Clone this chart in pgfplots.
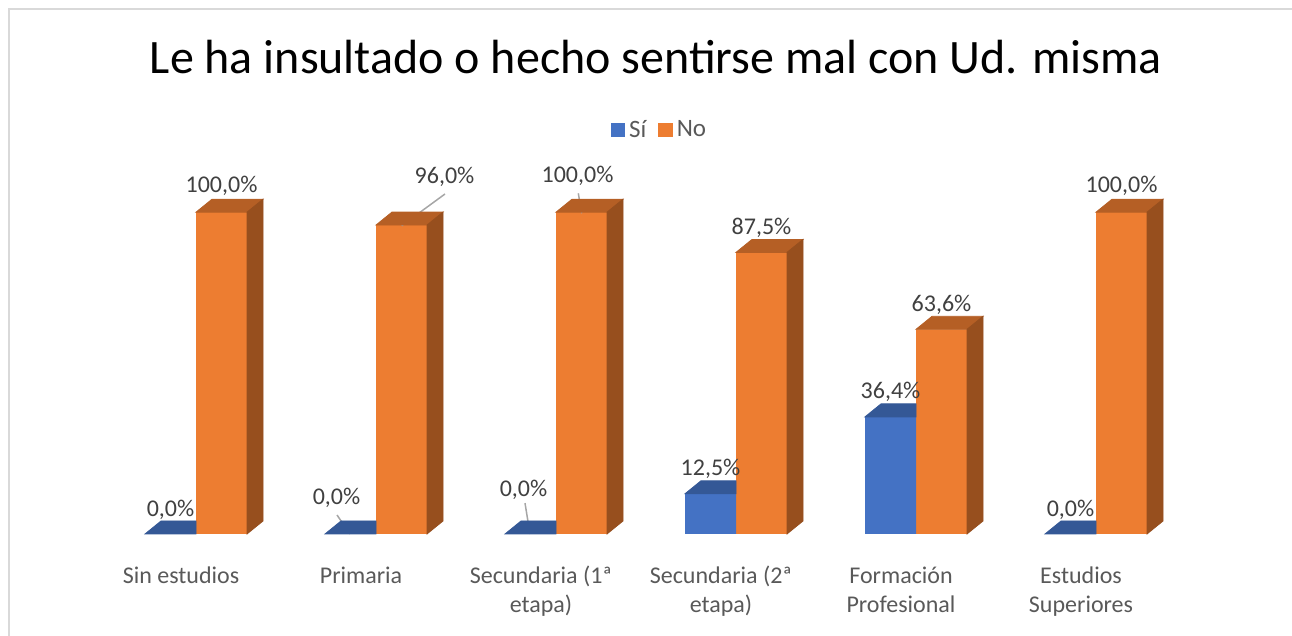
\documentclass[border=0pt]{standalone}
\usepackage{pgfplots}
\pgfplotsset{compat=1.18}
\usepackage{pgfplotstable}
\usepackage{fontspec}
\setmainfont{Carlito}
\definecolor{cOr}{HTML}{ED7D31}
\definecolor{cOrTop}{HTML}{B55F25}
\definecolor{cOrSide}{HTML}{974F1E}
\definecolor{cBl}{HTML}{4472C4}
\definecolor{cBlTop}{HTML}{345896}
\definecolor{cLab}{HTML}{404040}
\definecolor{cCat}{HTML}{595959}
\definecolor{cLead}{HTML}{A6A6A6}
\definecolor{cFrame}{HTML}{D9D9D9}
\pgfdeclareplotmark{empty}{}
% k = category, si / no = percentages, *dx/*dy = label offsets (pt)
\pgfplotstableread{
k si no sidx sidy nodx nody
0 0 100 0 12 0 13
1 0 96 -7 18 21.5 24
2 0 100 -3.5 22 -2 18
3 12.5 87.5 0 12.5 0 12.5
4 36.4 63.6 0 12.5 0 12
5 0 100 0 12 0 13
}\datatable
\begin{document}
\begin{tikzpicture}
\begin{axis}[
  scale only axis, width=646pt, height=318pt,
  xmin=-1.005556, xmax=6.172222, ymin=-31.697, ymax=165.94,
  clip=false,
  axis line style={draw=none},
  ytick=\empty,
  xtick={0,...,5},
  major tick length=0pt,
  xticklabels={{Sin estudios\\\mbox{}},{Primaria\\\mbox{}},{Secundaria (1ª\\etapa)},{Secundaria (2ª\\etapa)},{Formación\\Profesional},{Estudios\\Superiores}},
  xticklabel style={align=center, font=\fontsize{12}{14.6}\selectfont, text=cCat, anchor=base, yshift=11.5pt},
  legend style={at={(0.5112,0.7956)}, anchor=center, draw=none, fill=none,
    legend columns=-1, font=\fontsize{12.5}{14}\selectfont, text=cCat,
    /tikz/every even column/.append style={column sep=4pt}},
  legend image code/.code={\fill[#1] (0pt,-3.6pt) rectangle (7.2pt,3.6pt);},
]
\addlegendimage{fill=cBl, draw=none}
\addlegendentry{Sí}
\addlegendimage{fill=cOr, draw=none}
\addlegendentry{No}

% orange 3D faces
\addplot[forget plot, scatter, only marks, mark=empty,
  visualization depends on={rawy \as \rawy},
  scatter/@pre marker code/.code={%
     \pgfmathsetmacro\hh{\rawy*1.609}%
     \pgfmathsetmacro\hb{6.5-\hh}%
     \fill[cOrTop] (-12.75pt,0pt) -- (12.75pt,0pt) -- (20.75pt,6.5pt) -- (-4.75pt,6.5pt) -- cycle;
     \fill[cOrSide] (12.75pt,0pt) -- (20.75pt,6.5pt) -- (20.75pt,\hb pt) -- (12.75pt,-\hh pt) -- cycle;
  },
  scatter/@post marker code/.code={},
] table[x expr=\thisrow{k}+0.225, y=no] {\datatable};

% orange front
\addplot[forget plot, ybar, bar width=25.5pt, bar shift=0pt, fill=cOr, draw=none,
  nodes near coords={\pgfmathprintnumber[fixed,fixed zerofill,precision=1,use comma,assume math mode=true]{\pgfplotspointmeta}\%},
  visualization depends on={\thisrow{nodx} \as \ldx},
  visualization depends on={\thisrow{nody} \as \ldy},
  every node near coord/.append style={anchor=center, inner sep=0pt, xshift=\ldx pt, yshift=\ldy pt, text=cLab, font=\fontsize{12}{14}\selectfont},
] table[x expr=\thisrow{k}+0.225, y=no] {\datatable};

% blue 3D faces (visible part only)
\addplot[forget plot, scatter, only marks, mark=empty,
  scatter/@pre marker code/.code={%
     \fill[cBlTop] (-12.75pt,0pt) -- (12.75pt,0pt) -- (12.75pt,6.5pt) -- (-4.75pt,6.5pt) -- cycle;
  },
  scatter/@post marker code/.code={},
] table[x expr=\thisrow{k}-0.058333, y=si] {\datatable};

% blue front
\addplot[forget plot, ybar, bar width=25.5pt, bar shift=0pt, fill=cBl, draw=none,
  nodes near coords={\pgfmathprintnumber[fixed,fixed zerofill,precision=1,use comma,assume math mode=true]{\pgfplotspointmeta}\%},
  visualization depends on={\thisrow{sidx} \as \ldx},
  visualization depends on={\thisrow{sidy} \as \ldy},
  every node near coord/.append style={anchor=center, inner sep=0pt, xshift=\ldx pt, yshift=\ldy pt, text=cLab, font=\fontsize{12}{14}\selectfont},
] table[x expr=\thisrow{k}-0.058333, y=si] {\datatable};

% leader lines
\draw[cLead, line width=0.75pt] (axis cs:1.226,95.8) -- (axis cs:1.4667,105.66);
\draw[cLead, line width=0.75pt] (axis cs:2.2261,99.66) -- (axis cs:2.2072,105.87);
\draw[cLead, line width=0.75pt] (axis cs:0.9389,0) -- (axis cs:0.8667,5.9);
\draw[cLead, line width=0.75pt] (axis cs:1.9389,0) -- (axis cs:1.9111,9.6);

% title
\node[font=\fontsize{24}{28}\selectfont, anchor=base, text=black] at (rel axis cs:0.5077,0.8852) {Le ha insultado o hecho sentirse mal con Ud. misma};
% frame
\draw[cFrame, line width=1pt] (rel axis cs:0.00697,0) -- (rel axis cs:0.00697,0.98585) -- (rel axis cs:1,0.98585);
\end{axis}
\pgfresetboundingbox
\path[use as bounding box] (current axis.south west) rectangle (current axis.north east);
\end{tikzpicture}
\end{document}
